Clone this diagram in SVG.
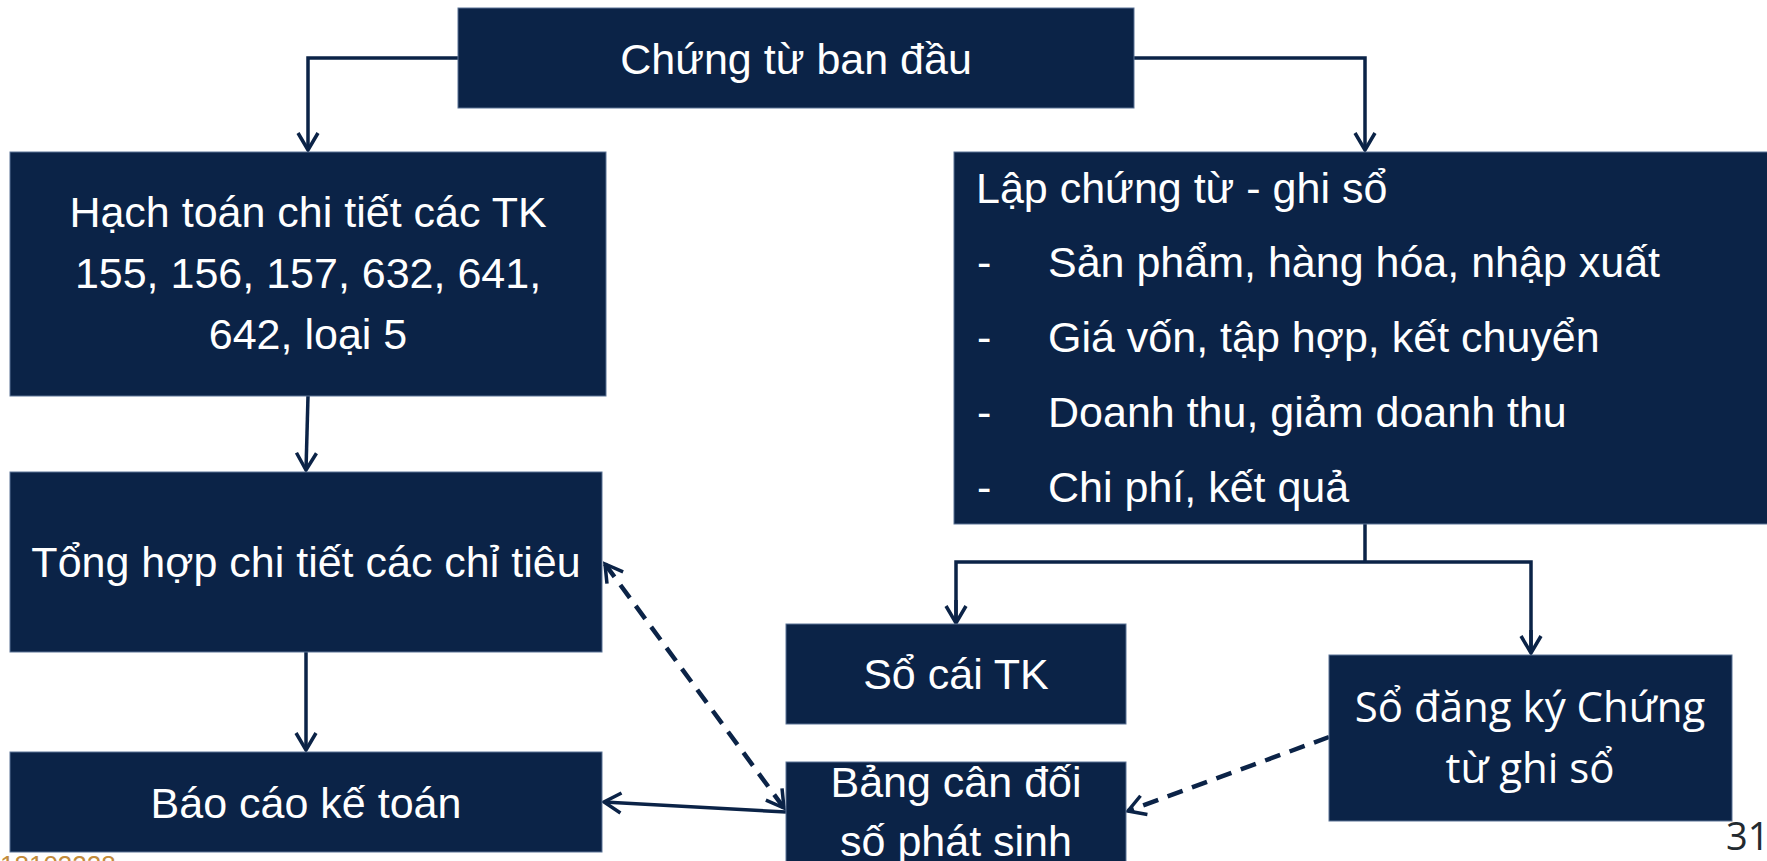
<svg xmlns="http://www.w3.org/2000/svg" width="1767" height="861" viewBox="0 0 1767 861">
  <style>
    .box { fill: #0B2347; stroke: #5A7395; stroke-width: 1; }
    .t { font-family: "Liberation Sans", Arial, sans-serif; font-size: 43px; fill: #FFFFFF; }
    .o { font-family: "Open Sans", "Liberation Sans", sans-serif; font-size: 42px; fill: #FFFFFF; }
    .c { text-anchor: middle; }
    .ln { fill: none; stroke: #0B2347; stroke-width: 3.5; }
    .dash { fill: none; stroke: #0B2347; stroke-width: 4.5; stroke-dasharray: 16 10; }
    .head { fill: none; stroke: #0B2347; stroke-width: 3.5; stroke-linejoin: miter; }
  </style>
  <defs>
    <marker id="arr" viewBox="-20 -12 24 24" markerWidth="24" markerHeight="24" refX="0" refY="0" markerUnits="userSpaceOnUse" orient="auto" overflow="visible">
      <path class="head" d="M-17,-10 L0,0 L-17,10"/>
    </marker>
    <marker id="arrs" viewBox="-20 -12 24 24" markerWidth="24" markerHeight="24" refX="0" refY="0" markerUnits="userSpaceOnUse" orient="auto-start-reverse" overflow="visible">
      <path class="head" d="M-17,-10 L0,0 L-17,10"/>
    </marker>
  </defs>

  <g id="connectors">
    <polyline class="ln" points="458,58 308,58 308,150" marker-end="url(#arr)"/>
    <polyline class="ln" points="1134,58 1365,58 1365,150" marker-end="url(#arr)"/>
    <line class="ln" x1="308" y1="396" x2="306" y2="470" marker-end="url(#arr)"/>
    <line class="ln" x1="306" y1="652" x2="306" y2="750" marker-end="url(#arr)"/>
    <polyline class="ln" points="1365,524 1365,562"/>
    <polyline class="ln" points="956,623 956,562 1531,562 1531,653"/>
    <line class="ln" x1="956" y1="600" x2="956" y2="623" marker-end="url(#arr)"/>
    <line class="ln" x1="1531" y1="630" x2="1531" y2="653" marker-end="url(#arr)"/>
    <line class="ln" x1="786" y1="812" x2="604" y2="802" marker-end="url(#arr)"/>
    <line class="dash" x1="605" y1="564" x2="784" y2="808" marker-start="url(#arrs)" marker-end="url(#arrs)"/>
    <line class="dash" x1="1329" y1="737" x2="1128" y2="811" marker-end="url(#arr)"/>
  </g>

  <g id="node-chung-tu">
    <rect class="box" x="458" y="8" width="676" height="100"/>
    <text class="t c" x="796" y="74">Chứng từ ban đầu</text>
  </g>

  <g id="node-hach-toan">
    <rect class="box" x="10" y="152" width="596" height="244"/>
    <text class="t c" x="308" y="227">Hạch toán chi tiết các TK</text>
    <text class="t c" x="308" y="288">155, 156, 157, 632, 641,</text>
    <text class="t c" x="308" y="349">642, loại 5</text>
  </g>

  <g id="node-tong-hop">
    <rect class="box" x="10" y="472" width="592" height="180"/>
    <text class="t c" x="306" y="577">Tổng hợp chi tiết các chỉ tiêu</text>
  </g>

  <g id="node-bao-cao">
    <rect class="box" x="10" y="752" width="592" height="100"/>
    <text class="t c" x="306" y="818">Báo cáo kế toán</text>
  </g>

  <g id="node-lap-chung-tu">
    <rect class="box" x="954" y="152" width="820" height="372"/>
    <text class="t" x="976" y="203">Lập chứng từ - ghi sổ</text>
    <text class="t" x="977" y="277">-</text>
    <text class="t" x="1048" y="277">Sản phẩm, hàng hóa, nhập xuất</text>
    <text class="t" x="977" y="352">-</text>
    <text class="t" x="1048" y="352">Giá vốn, tập hợp, kết chuyển</text>
    <text class="t" x="977" y="427">-</text>
    <text class="t" x="1048" y="427">Doanh thu, giảm doanh thu</text>
    <text class="t" x="977" y="502">-</text>
    <text class="t" x="1048" y="502">Chi phí, kết quả</text>
  </g>

  <g id="node-so-cai">
    <rect class="box" x="786" y="624" width="340" height="100"/>
    <text class="t c" x="956" y="689">Sổ cái TK</text>
  </g>

  <g id="node-bang-can-doi">
    <rect class="box" x="786" y="762" width="340" height="110"/>
    <text class="t c" x="956" y="797">Bảng cân đối</text>
    <text class="t c" x="956" y="856">số phát sinh</text>
  </g>

  <g id="node-so-dang-ky">
    <rect class="box" x="1329" y="655" width="403" height="166"/>
    <text class="o c" x="1530" y="722">Sổ đăng ký Chứng</text>
    <text class="o c" x="1530" y="783">từ ghi sổ</text>
  </g>

  <text x="1726" y="850" font-family="Open Sans, Liberation Sans, sans-serif" font-size="38" fill="#222A30">31</text>
  <text x="0" y="874" font-family="Liberation Sans, Arial, sans-serif" font-size="26" fill="#C38C3C">18103228</text>
</svg>
